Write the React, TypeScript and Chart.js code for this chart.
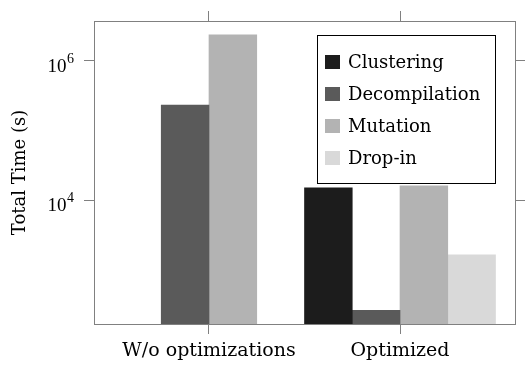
import React, { useEffect, useRef } from "react";
import { Chart, registerables } from "chart.js";

Chart.register(...registerables);

const categories = ["W/o optimizations", "Optimized"];
const seriesNames = ["Clustering", "Decompilation", "Mutation", "Drop-in"];
const clustering = [null, 15000];
const decompilation = [233000, 260];
const mutation = [2370000, 16000];
const dropIn = [null, 1630];
const seriesColors = ["#1c1c1c", "#5a5a5a", "#b3b3b3", "#d9d9d9"];
const yTickValues = [1e4, 1e6];
const yTickExponents = ["4", "6"];
const yMin = 165;
const yMax = 3.76e6;

const SERIF = "'DejaVu Serif', serif";
const TICK_SERIF = "'Liberation Serif', serif";
const AXIS_GRAY = "#808080";

const seriesValues = [clustering, decompilation, mutation, dropIn];

const overlayPlugin = {
  id: "overlay",
  afterDraw(chart: any) {
    const ctx = chart.ctx;
    const area = chart.chartArea;
    const yScale = chart.scales.y;
    ctx.save();
    // y tick labels with superscript exponent
    yTickValues.forEach((v, i) => {
      const py = yScale.getPixelForValue(v);
      ctx.fillStyle = "#000";
      ctx.textBaseline = "alphabetic";
      ctx.font = `14px ${TICK_SERIF}`;
      const expW = ctx.measureText(yTickExponents[i]).width;
      const right = area.left - 20;
      ctx.textAlign = "right";
      ctx.fillText(yTickExponents[i], right, py + 2);
      ctx.font = `19px ${TICK_SERIF}`;
      ctx.fillText("10", right - expW - 0.5, py + 11);
    });
    // legend box
    const bx = area.right - 198;
    const by = area.top + 14;
    const bw = 178;
    const bh = 148;
    ctx.fillStyle = "#fff";
    ctx.fillRect(bx, by, bw, bh);
    ctx.strokeStyle = "#000";
    ctx.lineWidth = 1;
    ctx.strokeRect(bx + 0.5, by + 0.5, bw, bh);
    chart.data.datasets.forEach((ds: any, i: number) => {
      const cy = by + 27 + i * 32;
      ctx.fillStyle = ds.backgroundColor;
      ctx.fillRect(bx + 8, cy - 7, 15, 14);
      ctx.fillStyle = "#000";
      ctx.font = `18px ${SERIF}`;
      ctx.textAlign = "left";
      ctx.textBaseline = "alphabetic";
      ctx.fillText(ds.label, bx + 31, cy + 6);
    });
    ctx.restore();
  },
};

export default function App() {
  const ref = useRef<HTMLCanvasElement>(null);
  useEffect(() => {
    if (!ref.current) return;
    const datasets = seriesNames.map((name, si) => ({
      label: name,
      data: categories.map((_, ci) => ({ x: ci, y: seriesValues[si][ci] })),
      backgroundColor: seriesColors[si],
      borderWidth: 0,
      categoryPercentage: 1,
      barPercentage: 1,
    }));
    const xRange = { min: -0.602, max: 1.602 };
    const gridCfg = {
      display: true,
      drawOnChartArea: false,
      drawTicks: true,
      tickLength: 10,
      color: AXIS_GRAY,
      lineWidth: 1,
      offset: false,
    };
    const borderCfg = { display: true, color: AXIS_GRAY, width: 1 };
    const chart = new Chart(ref.current, {
      type: "bar",
      data: { datasets } as any,
      plugins: [overlayPlugin],
      options: {
        animation: false,
        responsive: false,
        maintainAspectRatio: false,
        layout: { padding: 0 },
        plugins: { legend: { display: false }, tooltip: { enabled: false } },
        scales: {
          x: {
            type: "linear",
            position: "bottom",
            ...xRange,
            offset: false,
            grid: gridCfg,
            border: borderCfg,
            afterBuildTicks: (s: any) => {
              s.ticks = categories.map((_, i) => ({ value: i }));
            },
            afterFit: (s: any) => {
              s.height = 44;
            },
            ticks: {
              autoSkip: false,
              maxRotation: 0,
              padding: 6,
              color: "#000",
              font: { family: SERIF, size: 19 },
              callback: (v: any) => categories[v] ?? "",
            },
          },
          x2: {
            type: "linear",
            position: "top",
            ...xRange,
            offset: false,
            grid: gridCfg,
            border: borderCfg,
            afterBuildTicks: (s: any) => {
              s.ticks = categories.map((_, i) => ({ value: i }));
            },
            afterFit: (s: any) => {
              s.height = 21;
            },
            ticks: { display: false },
          },
          y: {
            type: "logarithmic",
            position: "left",
            min: yMin,
            max: yMax,
            grid: gridCfg,
            border: borderCfg,
            afterBuildTicks: (s: any) => {
              s.ticks = yTickValues.map((v) => ({ value: v, major: true }));
            },
            afterFit: (s: any) => {
              s.width = 94;
            },
            ticks: { display: false },
            title: {
              display: true,
              text: "Total Time (s)",
              color: "#000",
              font: { family: SERIF, size: 18 },
              padding: { top: 10, bottom: 0 },
            },
          },
          y2: {
            type: "logarithmic",
            position: "right",
            min: yMin,
            max: yMax,
            grid: gridCfg,
            border: borderCfg,
            afterBuildTicks: (s: any) => {
              s.ticks = yTickValues.map((v) => ({ value: v, major: true }));
            },
            afterFit: (s: any) => {
              s.width = 17;
            },
            ticks: { display: false },
          },
        },
      } as any,
    });
    return () => chart.destroy();
  }, []);
  return (
    <div style={{ position: "fixed", left: 0, top: 0, width: 532, height: 368, background: "#fff" }}>
      <canvas ref={ref} width={532} height={368} style={{ width: 532, height: 368 }} />
    </div>
  );
}
